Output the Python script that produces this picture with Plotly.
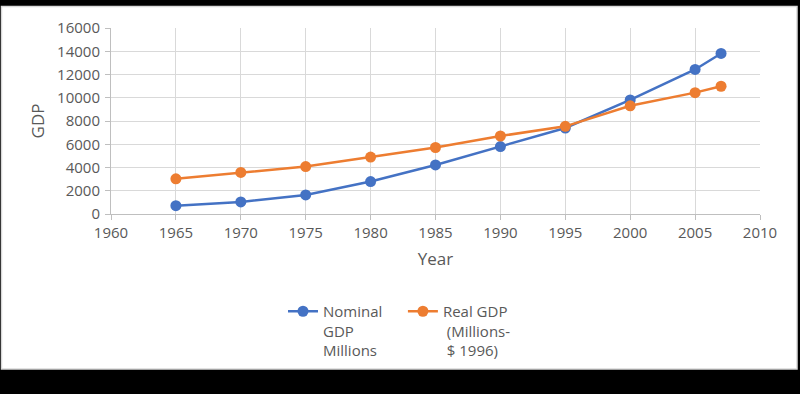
import plotly.graph_objects as go

years = [1965, 1970, 1975, 1980, 1985, 1990, 1995, 2000, 2005, 2007]
nominal_gdp = [719, 1038, 1638, 2789, 4220, 5803, 7398, 9817, 12434, 13808]
real_gdp = [3030, 3580, 4080, 4900, 5720, 6710, 7540, 9310, 10440, 10990]
series_names = ["Nominal\u00a0\u00a0\u00a0\u00a0<br>GDP<br>Millions", "Real GDP<br>\u00a0(Millions-<br>\u00a0$ 1996)"]
x_ticks = list(range(1960, 2011, 5))
y_ticks = list(range(0, 16001, 2000))
y_tick_labels = [str(v) for v in y_ticks]

FONT = "'Open Sans', 'Noto Sans', sans-serif"
GRAY = "#595959"

fig = go.Figure()
fig.add_trace(go.Scatter(x=years, y=nominal_gdp, name=series_names[0], mode="lines+markers",
                         line=dict(color="#4472C4", width=2.5),
                         marker=dict(color="#4472C4", size=11)))
fig.add_trace(go.Scatter(x=years, y=real_gdp, name=series_names[1], mode="lines+markers",
                         line=dict(color="#ED7D31", width=2.5),
                         marker=dict(color="#ED7D31", size=11)))

L, R, T, B = 111, 40, 28, 180
W, H = 800, 394
pw, ph = W - L - R, H - T - B

def px2x(p):
    return (p - L) / pw

def py2y(p):
    return (H - B - p) / ph

fig.update_layout(
    width=W, height=H,
    margin=dict(l=L, r=R, t=T, b=B),
    paper_bgcolor="black",
    plot_bgcolor="rgba(0,0,0,0)",
    font=dict(family=FONT, size=15, color=GRAY),
    shapes=[dict(type="rect", xref="paper", yref="paper",
                 x0=px2x(1.5), x1=px2x(797), y0=py2y(369), y1=py2y(6.5),
                 fillcolor="white", line=dict(color="#d9d9d9", width=1.5), layer="below")],
    xaxis=dict(range=[1960, 2010], tickvals=x_ticks, showgrid=True, gridcolor="#d9d9d9",
               showline=True, linecolor="#bfbfbf", ticks="outside", ticklen=5, tickcolor="#bfbfbf",
               title=dict(text="Year", font=dict(size=17, color=GRAY), standoff=12),
               zeroline=False, tickfont=dict(size=15, color=GRAY)),
    yaxis=dict(range=[0, 16000], tickvals=y_ticks, ticktext=y_tick_labels, showgrid=True,
               gridcolor="#d9d9d9",
               showline=True, linecolor="#bfbfbf", ticks="outside", ticklen=5, tickcolor="#bfbfbf",
               ticklabelstandoff=2,
               title=dict(text="GDP", font=dict(size=17, color=GRAY), standoff=8),
               zeroline=False, tickfont=dict(size=15, color=GRAY)),
    legend=dict(orientation="h", x=px2x(283), xanchor="left", y=py2y(295), yanchor="top",
                valign="top", font=dict(size=15, color=GRAY), bgcolor="rgba(0,0,0,0)",
                tracegroupgap=0, itemwidth=30),
    showlegend=True,
)

fig.write_html("out.html", config={"displayModeBar": False},
               post_script="document.body.style.margin='0';document.body.style.background='black';")
